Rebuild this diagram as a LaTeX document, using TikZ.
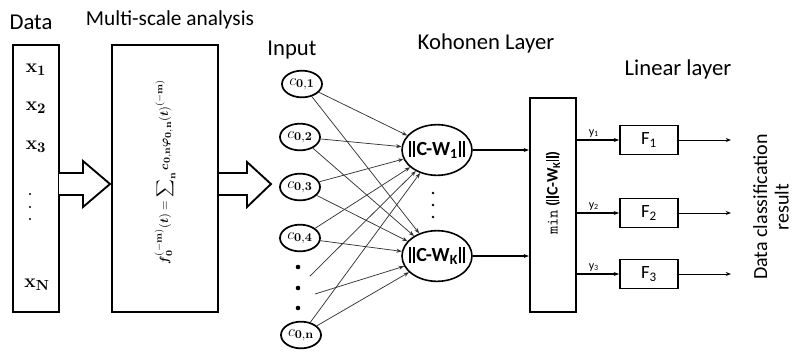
\documentclass[tikz,border=0pt]{standalone}
\usepackage[no-math]{fontspec}
\setmainfont{Carlito}
\usepackage{amsmath}
\usetikzlibrary{arrows.meta,shapes.geometric}

\tikzset{
  lbl/.style={inner sep=0.75pt, font=\fontsize{17}{20}\selectfont},
  xin/.style={inner sep=0.75pt, font=\fontsize{15}{17}\selectfont},
  cin/.style={draw, line width=1.3pt, ellipse, minimum width=30pt, minimum height=20pt, inner sep=0pt},
  koh/.style={draw, line width=1.2pt, ellipse, minimum width=52.5pt, minimum height=38pt, inner sep=0pt},
  fbox/.style={draw, line width=1.4pt, minimum width=43.5pt, minimum height=21.75pt, inner sep=0pt, font=\fontsize{14}{16}\selectfont},
  wire/.style={draw=black!80, line width=0.55pt, -{Stealth[length=4pt,width=3pt]}},
  link/.style={line width=1.3pt, -{Stealth[length=4pt,width=3pt]}},
  hollow/.style={line width=1.4pt, fill=white},
}
\newcommand{\dbar}{\rule[-0.08em]{0.09em}{0.8em}\kern0.12em\rule[-0.08em]{0.09em}{0.8em}}
\newcommand{\dnorm}[1]{\dbar\kern0.08em C-W\textsubscript{#1}\kern0.05em\dbar}

\begin{document}
\begin{tikzpicture}[x=0.75pt,y=0.75pt,yscale=-1,xscale=1]
\useasboundingbox (0,0) rectangle (793,355);

% Text Node
\node [lbl] (tdata) at (31,22) {Data};
\node [lbl, font=\fontsize{16}{19}\selectfont] (tmulti) at (170,20) {Multi-scale analysis};
\node [lbl] (tinput) at (292,50) {Input};
\node [lbl] (tkoh) at (486,43) {Kohonen Layer};
\node [lbl] (tlin) at (678,69) {Linear layer};

%Shape: Rectangle (data)
\draw [line width=1.6pt] (13,45) rectangle (59,312);
\node [xin] (x1) at (36,70) {$\mathbf{x}_{\mathbf{1}}$};
\node [xin] (x2) at (36,108) {$\mathbf{x}_{\mathbf{2}}$};
\node [xin] (x3) at (36,147) {$\mathbf{x}_{\mathbf{3}}$};
\node [xin] (xn) at (37,285) {$\mathbf{x}_{\mathbf{N}}$};
\foreach \y in {194,207,219}
  \fill (30,\y) circle [radius=1.2];

%Shape: Rectangle (multi-scale)
\draw [line width=1.6pt] (112,45) rectangle (218,312);
\node [rotate=90, inner sep=0pt] (fml) at (165,172) {\fontsize{9.5}{11}\selectfont$\displaystyle \boldsymbol f_{\mathbf 0}^{(-\mathbf m)}(\boldsymbol t)=\sum\nolimits_{\mathbf n} \boldsymbol c_{\mathbf{0,n}}\boldsymbol\varphi_{\mathbf{0,n}}(\boldsymbol t)^{(-\mathbf m)}$};

%Shape: Right Arrow
\draw [hollow] (59,173) -- (83,173) -- (83,161) -- (110,184) -- (83,207) -- (83,195) -- (59,195) ;
\draw [hollow] (219,173) -- (247,173) -- (247,162) -- (271,184) -- (247,207) -- (247,195) -- (219,195) ;

% Input nodes
\node [cin] (c1) at (302,84) {};
\node [cin] (c2) at (300,137) {};
\node [cin] (c3) at (300,187) {};
\node [cin] (c4) at (300,238) {};
\node [cin] (cn) at (301,335) {};
\foreach \c/\k in {c1/1,c2/2,c3/3,c4/4,cn/n}
  \node [inner sep=0pt, font=\fontsize{13}{15}\selectfont] at (\c) {$c_{\mathbf{0,\k}}$};
\foreach \y in {267,288,308}
  \fill (298,\y) circle [radius=2.3];
\coordinate (d1) at (310,276);
\coordinate (d2) at (315,294);

% Kohonen nodes
\node [koh] (w1) at (437,150) {};
\node [koh] (wk) at (437,256) {};
\node [inner sep=0pt, font=\bfseries\fontsize{15}{17}\selectfont] (w1t) at (w1) {\dnorm{1}};
\node [inner sep=0pt, font=\bfseries\fontsize{15}{17}\selectfont] (wkt) at (wk) {\dnorm{K}};
\foreach \y in {193,205,217}
  \fill (433,\y) circle [radius=1.4];

\foreach \c in {c1,c2,c3,c4,cn} {
  \draw [wire] (\c) -- (w1);
  \draw [wire] (\c) -- (wk);
}
\draw [wire] (d1) -- (w1);
\draw [wire] (d2) -- (wk);

%Shape: Rectangle (min)
\node [draw, line width=1.6pt, minimum width=34.5pt, minimum height=160.5pt, inner sep=0pt] (minbox) at (553,205) {};
\node [rotate=90, inner sep=0pt, font=\bfseries\fontsize{12}{14}\selectfont] (mintxt) at (553,193) {\texttt{\mdseries min} (\dnorm{K})};

\draw [link] (w1.east) -- (minbox.west |- w1.east);
\draw [link] (wk.east) -- (minbox.west |- wk.east);

% Linear layer
\node [fbox] (f1) at (649,140) {F\textsubscript{1}};
\node [fbox] (f2) at (649,213) {F\textsubscript{2}};
\node [fbox] (f3) at (649,274) {F\textsubscript{3}};
\foreach \f/\k in {f1/1,f2/2,f3/3} {
  \draw [link] (minbox.east |- \f.west) -- node [above, pos=0.4, inner sep=1.5pt, font=\fontsize{9}{10}\selectfont] {y\textsubscript{\k}} (\f.west);
  \coordinate (o\k) at (731,0 |- \f.east);
  \draw [line width=0.6pt, -{Stealth[length=4pt,width=3pt]}] (\f.east) -- (o\k);
}

% Text Node
\node [rotate=90, align=center, inner sep=0pt, font=\fontsize{15}{16}\selectfont] (tres) at (771,207) {Data classification\\result};
\end{tikzpicture}
\end{document}
